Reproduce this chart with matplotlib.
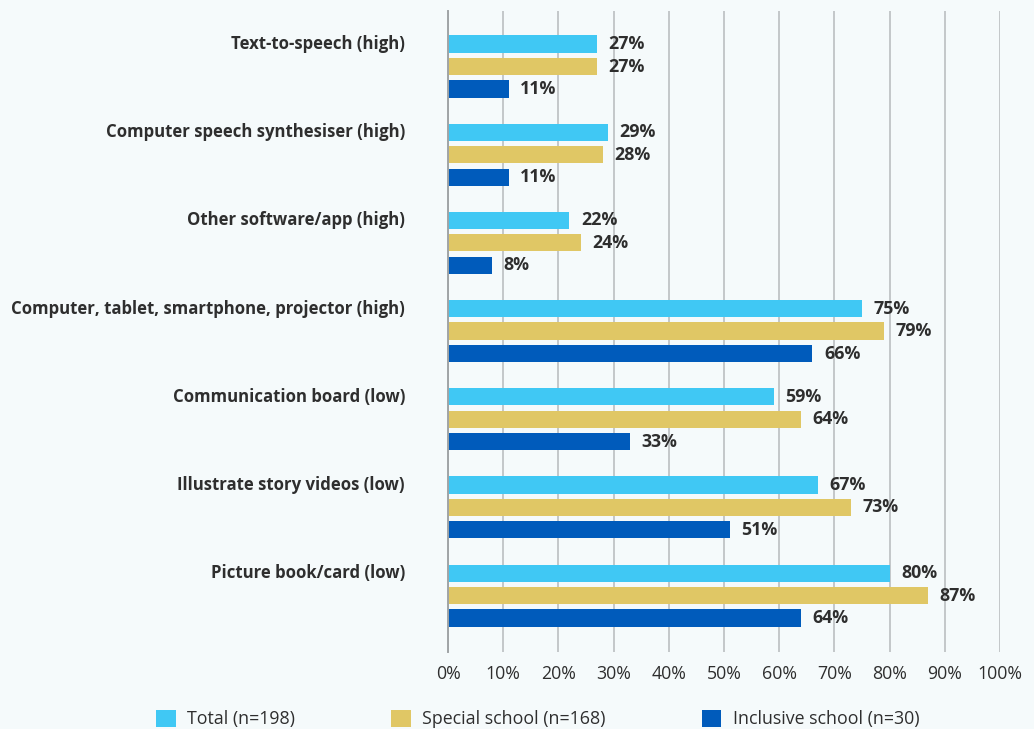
import matplotlib.pyplot as plt
from matplotlib.patches import Patch

# Data
categories = [
    'Text-to-speech (high)',
    'Computer speech synthesiser (high)',
    'Other software/app (high)',
    'Computer, tablet, smartphone, projector (high)',
    'Communication board (low)',
    'Illustrate story videos (low)',
    'Picture book/card (low)',
]
total = [27, 29, 22, 75, 59, 67, 80]
special = [27, 28, 24, 79, 64, 73, 87]
inclusive = [11, 11, 8, 66, 33, 51, 64]
series_names = ['Total (n=198)', 'Special school (n=168)', 'Inclusive school (n=30)']
series_colors = ['#40c8f4', '#e0c765', '#005bbb']

bg = '#f5fafb'
text_color = '#2e2e2e'
plt.rcParams['font.family'] = 'Open Sans'
fs = 12.1

fig = plt.figure(figsize=(10.34, 7.29), dpi=100, facecolor=bg)
ax = fig.add_axes([0.4333, 0.1056, 0.5338, 0.8793], facecolor=bg)

offset = 0.255
bar_h = 0.195
for j, (vals, color) in enumerate(zip([total, special, inclusive], series_colors)):
    ys = [i + (j - 1) * offset for i in range(len(categories))]
    ax.barh(ys, vals, height=bar_h, color=color, zorder=3)
    for y, v in zip(ys, vals):
        ax.text(v + 2.1, y, f'{v}%', va='center', ha='left', fontsize=12.8,
                fontweight='bold', color=text_color, zorder=4)

# category labels sit beside the first bar of each group
for i, cat in enumerate(categories):
    ax.text(-7.8, i - offset, cat, ha='right', va='center', fontsize=fs,
            fontweight='bold', color=text_color)

ax.set_xlim(0, 100)
ax.set_ylim(len(categories) - 1 + 0.64, -0.63)
ax.set_xticks(range(0, 101, 10))
ax.set_xticklabels([f'{t}%' for t in range(0, 101, 10)], fontsize=12.8, color=text_color)
ax.tick_params(axis='x', length=0, pad=9)
ax.set_yticks([])
ax.grid(axis='x', color='#c3c7c9', linewidth=1.4, zorder=0)
for side in ['top', 'right', 'bottom']:
    ax.spines[side].set_visible(False)
ax.spines['left'].set_color('#a0a4a6')
ax.spines['left'].set_linewidth(1.4)
ax.spines['left'].set_zorder(5)

handles = [Patch(facecolor=c, edgecolor='none') for c in series_colors]
fig.legend(handles, series_names, loc='center', bbox_to_anchor=(0.52, 0.0135),
           ncol=3, frameon=False, fontsize=12.8, handlelength=1.1, handleheight=1.1,
           handletextpad=0.65, columnspacing=5.4, labelcolor=text_color)

fig.savefig('out.png', dpi=100, facecolor=bg)
